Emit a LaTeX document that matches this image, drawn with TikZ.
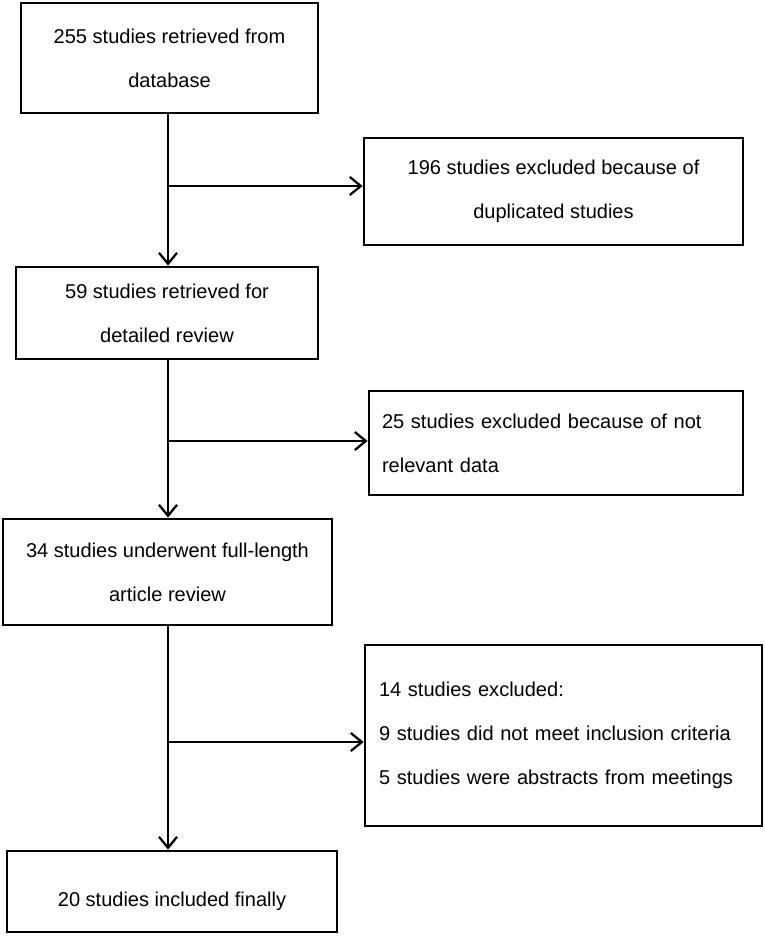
\documentclass[tikz,border=0pt]{standalone}
\usepackage{fontspec}
\setmainfont{Liberation Sans}
\usetikzlibrary{arrows.meta}
\newcommand{\studyfont}{\fontsize{11.4}{25}\selectfont}
\begin{document}
\begin{tikzpicture}[x=0.02cm, y=-0.02cm, font=\studyfont,
        stage/.style={draw, line width=1.6pt, align=center, inner sep=0pt},
        excl/.style={draw, line width=1.6pt, align=left, inner sep=0pt},
        flow/.style={line width=1.3pt, -{Straight Barb[length=2.2mm, width=3.6mm]}}]
        \useasboundingbox (0,0) rectangle (764,936);
        
        \node[stage, minimum width=5.94cm, minimum height=2.2cm] (b1) at (169.5,58) {255 studies retrieved from\\database};
        \node[excl, align=center, minimum width=7.58cm, minimum height=2.14cm] (b2) at (553.5,191.5) {196 studies excluded because of\\duplicated studies};
        \node[stage, minimum width=6.04cm, minimum height=1.84cm] (b3) at (167,313) {59 studies retrieved for\\detailed review};
        \node[excl, text width=6.96cm, minimum width=7.48cm, minimum height=2.08cm] (b4) at (556,443) {25 studies excluded because of not\\relevant data};
        \node[stage, minimum width=6.58cm, minimum height=2.12cm] (b5) at (167.5,572) {34 studies underwent full-length\\article review};
        \node[excl, text width=7.38cm, minimum width=7.94cm, minimum height=3.62cm] (b6) at (563.5,735.5) {14 studies excluded:\\9 studies did not meet inclusion criteria\\5 studies were abstracts from meetings};
        \node[stage, text height=19pt, text depth=2pt, minimum width=6.6cm, minimum height=1.62cm] (b7) at (172,891.5) {20 studies included finally};
        
        % trunk and branches
        \coordinate (j1) at (168,186);
        \coordinate (j2) at (168,441);
        \coordinate (j3) at (168,742);
        
        \draw[flow] (j1 |- b1.south) -- (j1 |- b3.north);
        \draw[flow] (j1) -- (j1 -| b2.west);
        \draw[flow] (j2 |- b3.south) -- (j2 |- b5.north);
        \draw[flow] (j2) -- (j2 -| b4.west);
        \draw[flow] (j3 |- b5.south) -- (j3 |- b7.north);
        \draw[flow] (j3) -- (j3 -| b6.west);
    \end{tikzpicture}
\end{document}
